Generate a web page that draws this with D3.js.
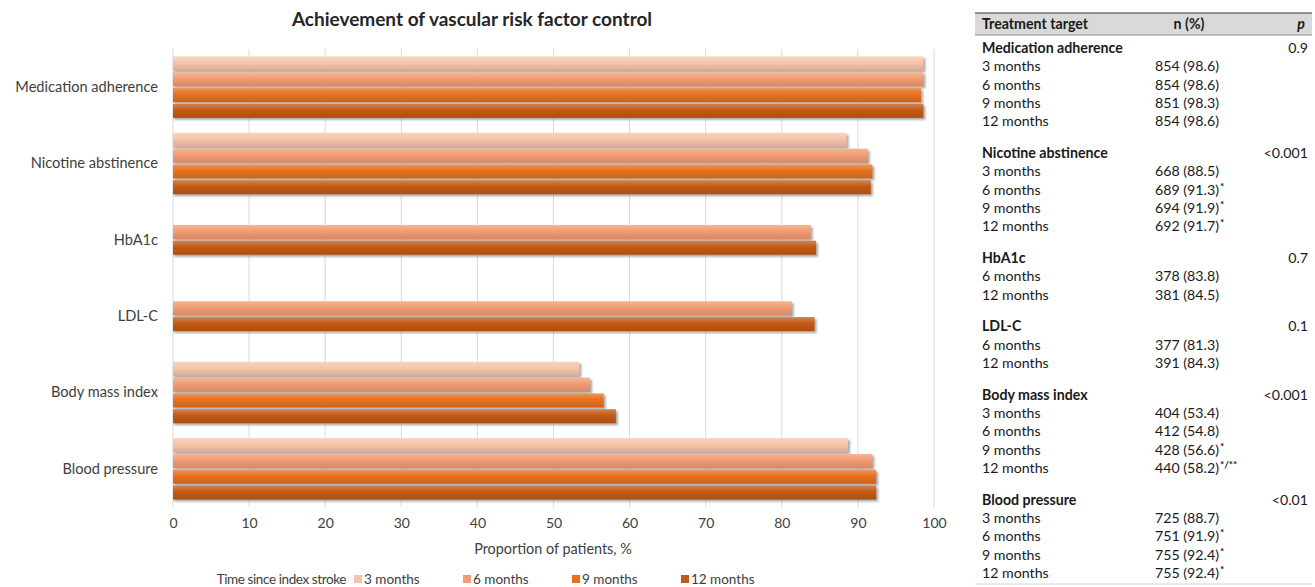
<!DOCTYPE html>
<html>
<head>
<meta charset="utf-8">
<script src="https://cdn.jsdelivr.net/npm/d3@7"></script>
<style>
  html, body { margin: 0; padding: 0; background: #fff; }
  svg { display: block; font-family: Lato, "Open Sans", sans-serif; }
</style>
</head>
<body>
<svg id="chart" width="1315" height="587"></svg>
<script>
// Treatment targets (top to bottom) and follow-up visits
const categories = ["Medication adherence", "Nicotine abstinence", "HbA1c", "LDL-C", "Body mass index", "Blood pressure"];
const seriesNames = ["3 months", "6 months", "9 months", "12 months"];

// Proportion of patients reaching each target, %
const pct3  = [98.6, 88.5, null, null, 53.4, 88.7];
const pct6  = [98.6, 91.3, 83.8, 81.3, 54.8, 91.9];
const pct9  = [98.3, 91.9, null, null, 56.6, 92.4];
const pct12 = [98.6, 91.7, 84.5, 84.3, 58.2, 92.4];

// Patient counts
const n3  = [854, 668, null, null, 404, 725];
const n6  = [854, 689, 378, 377, 412, 751];
const n9  = [851, 694, null, null, 428, 755];
const n12 = [854, 692, 381, 391, 440, 755];

// Significance marks vs. earlier visits
const sig3  = ["", "", "", "", "", ""];
const sig6  = ["", "*", "", "", "", "*"];
const sig9  = ["", "*", "", "", "*", "*"];
const sig12 = ["", "*", "", "", "*/**", "*"];

const pValues = ["0.9", "<0.001", "0.7", "0.1", "<0.001", "<0.01"];
const xTicks = [0, 10, 20, 30, 40, 50, 60, 70, 80, 90, 100];

const pctBySeries = [pct3, pct6, pct9, pct12];
const nBySeries = [n3, n6, n9, n12];
const sigBySeries = [sig3, sig6, sig9, sig12];
const colors = ["#f6c4aa", "#f29c73", "#e8711f", "#c35a14"];

const svg = d3.select("#chart");
const defs = svg.append("defs");

// Excel-like bar shading per series
colors.forEach((c, i) => {
  const g = defs.append("linearGradient")
    .attr("id", "grad" + i).attr("x1", 0).attr("y1", 0).attr("x2", 0).attr("y2", 1);
  const base = d3.color(c);
  g.append("stop").attr("offset", "0%").attr("stop-color", d3.interpolateRgb(c, "#ffffff")(0.25));
  g.append("stop").attr("offset", "45%").attr("stop-color", base.formatHex());
  g.append("stop").attr("offset", "100%").attr("stop-color", base.darker(0.35).formatHex());
});
const blur = defs.append("filter").attr("id", "shadowBlur")
  .attr("x", "-5%").attr("y", "-50%").attr("width", "110%").attr("height", "200%");
blur.append("feGaussianBlur").attr("stdDeviation", 0.8);

// ---------- Bar chart ----------
const plot = { left: 173, right: 934, top: 49, bottom: 507 };
const x = d3.scaleLinear().domain([0, 100]).range([plot.left, plot.right]);
const y = d3.scaleBand().domain(categories).range([plot.top, plot.bottom]).padding(0);
const slot = 15.8, barH = 14;
const labelColor = "#404040";

svg.append("text")
  .attr("x", 472).attr("y", 26)
  .attr("text-anchor", "middle")
  .attr("font-size", 19).attr("font-weight", 700).attr("fill", "#262626")
  .text("Achievement of vascular risk factor control");

// vertical gridlines
svg.append("g").selectAll("line").data(xTicks).join("line")
  .attr("x1", d => x(d)).attr("x2", d => x(d))
  .attr("y1", plot.top).attr("y2", plot.bottom)
  .attr("stroke", "#d9d9d9").attr("stroke-width", 1);

// x axis labels
const xAxis = d3.axisBottom(x).tickValues(xTicks).tickSize(0).tickPadding(0);
const gx = svg.append("g").attr("transform", `translate(0,${plot.bottom + 11})`).call(xAxis);
gx.select(".domain").remove();
gx.selectAll("text").attr("font-family", "Lato, sans-serif").attr("font-size", 14).attr("fill", labelColor);

// category labels
const yAxis = d3.axisLeft(y).tickSize(0).tickPadding(15);
const gy = svg.append("g").attr("transform", `translate(${plot.left},0)`).call(yAxis);
gy.select(".domain").remove();
gy.selectAll("text").attr("font-family", "Lato, sans-serif").attr("font-size", 14.6).attr("fill", labelColor);

// bars, grouped per category; only visits with data take a slot
categories.forEach((cat, ci) => {
  const present = seriesNames.map((s, si) => si).filter(si => pctBySeries[si][ci] != null);
  const center = y(cat) + y.bandwidth() / 2;
  const inner = d3.scaleBand().domain(present)
    .range([center - present.length * slot / 2, center + present.length * slot / 2]);
  const g = svg.append("g");
  const recs = present.map(si => ({ si, v: pctBySeries[si][ci] }));
  g.selectAll("rect.shadow").data(recs).join("rect")
    .attr("class", "shadow")
    .attr("x", x(0) + 1).attr("y", d => inner(d.si) + (slot - barH) / 2 + 2)
    .attr("width", d => x(d.v) - x(0) + 1).attr("height", barH)
    .attr("fill", "#8c8c8c").attr("opacity", 0.75).attr("filter", "url(#shadowBlur)");
  g.selectAll("rect.bar").data(recs).join("rect")
    .attr("class", "bar")
    .attr("x", x(0)).attr("y", d => inner(d.si) + (slot - barH) / 2)
    .attr("width", d => x(d.v) - x(0)).attr("height", barH)
    .attr("fill", d => `url(#grad${d.si})`);
});

// axis title
svg.append("text")
  .attr("x", 553).attr("y", 554)
  .attr("text-anchor", "middle").attr("font-size", 14.4).attr("fill", labelColor)
  .text("Proportion of patients, %");

// legend
const legend = svg.append("g").attr("transform", "translate(0,579)");
legend.append("text").attr("x", 346).attr("y", 4.5).attr("text-anchor", "end")
  .attr("font-size", 13.5).attr("fill", labelColor).attr("letter-spacing", -0.4)
  .text("Time since index stroke");
const legendX = d3.scalePoint().domain(seriesNames).range([354, 681]);
const li = legend.selectAll("g.item").data(seriesNames).join("g")
  .attr("class", "item").attr("transform", d => `translate(${legendX(d)},0)`);
li.append("rect").attr("x", 0).attr("y", -4).attr("width", 8).attr("height", 8)
  .attr("fill", (d, i) => colors[i]);
li.append("text").attr("x", 10).attr("y", 4.5).attr("font-size", 13.5).attr("fill", labelColor).text(d => d);

// ---------- Table ----------
const tbl = { left: 975, right: 1312, labelX: 982, valX: 1155, pX: 1308, headTop: 13, headBottom: 35 };
const T = svg.append("g").attr("font-size", 14.2).attr("fill", "#1a1a1a");

T.append("rect").attr("x", tbl.left).attr("y", tbl.headTop).attr("width", tbl.right - tbl.left)
  .attr("height", tbl.headBottom - tbl.headTop).attr("fill", "#d9d9d9");
T.append("line").attr("x1", tbl.left).attr("x2", tbl.right).attr("y1", tbl.headTop).attr("y2", tbl.headTop)
  .attr("stroke", "#6e6e6e").attr("stroke-width", 1.5);
T.append("line").attr("x1", tbl.left).attr("x2", tbl.right).attr("y1", tbl.headBottom).attr("y2", tbl.headBottom)
  .attr("stroke", "#8a8a8a").attr("stroke-width", 1);
T.append("text").attr("x", tbl.labelX).attr("y", 29).attr("font-weight", 700).text("Treatment target");
T.append("text").attr("x", 1189).attr("y", 29).attr("text-anchor", "middle").attr("font-weight", 700).text("n (%)");
T.append("text").attr("x", 1301).attr("y", 29).attr("text-anchor", "middle").attr("font-weight", 700)
  .attr("font-style", "italic").text("p");

const rowStep = 18.3, groupGap = 13.5;
let rowY = 53;
categories.forEach((cat, ci) => {
  T.append("text").attr("x", tbl.labelX).attr("y", rowY).attr("font-weight", 700).text(cat);
  T.append("text").attr("x", tbl.pX).attr("y", rowY).attr("text-anchor", "end").text(pValues[ci]);
  seriesNames.forEach((s, si) => {
    if (pctBySeries[si][ci] == null) return;
    rowY += rowStep;
    T.append("text").attr("x", tbl.labelX).attr("y", rowY).text(s);
    const t = T.append("text").attr("x", tbl.valX).attr("y", rowY);
    t.append("tspan").text(`${nBySeries[si][ci]} (${pctBySeries[si][ci].toFixed(1)})`);
    if (sigBySeries[si][ci]) {
      t.append("tspan").attr("dx", 1).attr("dy", -5).attr("font-size", 10).attr("font-weight", 700)
        .text(sigBySeries[si][ci]);
    }
  });
  rowY += rowStep + groupGap;
});
T.append("line").attr("x1", tbl.left).attr("x2", tbl.right).attr("y1", 584).attr("y2", 584)
  .attr("stroke", "#e3e3e3").attr("stroke-width", 1.5);
</script>
</body>
</html>
